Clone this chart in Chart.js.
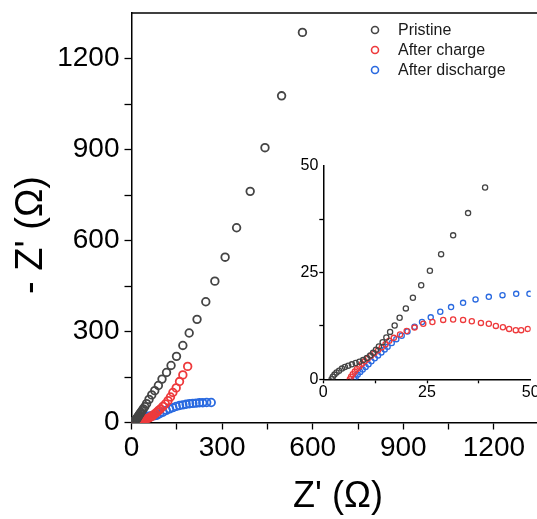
<!DOCTYPE html>
<html>
<head>
<meta charset="utf-8">
<script src="https://cdn.jsdelivr.net/npm/chart.js@4.4.1/dist/chart.umd.min.js"></script>
<style>
  html, body { margin: 0; padding: 0; background: #fff; overflow: hidden; }
  #wrap { position: relative; width: 537px; height: 519px; overflow: hidden; }
  #main { position: absolute; left: 0; top: 0; }
  #inset { position: absolute; left: 270px; top: 140px; }
</style>
</head>
<body>
<div id="wrap">
  <canvas id="main" width="545" height="519"></canvas>
  <canvas id="inset" width="290" height="280"></canvas>
</div>
<script>
// Nyquist data, Z' and -Z'' in ohm
const seriesNames = ['Pristine', 'After charge', 'After discharge'];
const seriesColors = ['#454545', '#ee3a3c', '#2a6ae0'];

const pristineRe = [2.0, 2.3, 2.7, 3.2, 3.8, 4.5, 5.2, 6.0, 6.9, 7.8, 8.7, 9.6, 10.5, 11.3, 12.0, 12.7, 13.4, 14.3, 15.2, 16.1,
  17.2, 18.4, 19.9, 21.6, 23.6, 25.7, 28.4, 31.3, 34.9, 39.0, 44, 50, 58, 67, 77, 89, 101, 116, 131, 149,
  170, 191, 217, 246, 276, 310, 348, 393, 442, 497, 566];
const pristineIm = [0, 0.6, 1.1, 1.6, 2.0, 2.5, 2.9, 3.2, 3.5, 3.8, 4.1, 4.5, 5.0, 5.6, 6.2, 6.9, 7.7, 8.7, 9.8, 11.1,
  12.6, 14.4, 16.6, 19.1, 22.0, 25.4, 29.3, 33.7, 38.9, 44.9, 52, 62, 76, 91, 105, 122, 143, 165, 188, 218,
  254, 295, 340, 398, 466, 545, 642, 762, 906, 1077, 1286];

const chargeRe = [6.4, 6.7, 7.1, 7.6, 8.1, 8.7, 9.3, 10.0, 10.7, 11.5, 12.3, 13.2, 14.1, 15.0, 15.9, 17.0, 18.5, 20.1, 22.0, 24.1,
  26.3, 28.9, 31.3, 33.7, 35.8, 38.0, 39.9, 41.6, 43.3, 44.8, 46.4, 47.7, 49.3, 52, 55, 59, 63, 68, 73, 79,
  85, 90, 96, 104, 112, 121, 129, 137, 148, 159, 170, 186];
const chargeIm = [0, 0.6, 1.2, 1.8, 2.4, 3.0, 3.6, 4.2, 4.8, 5.5, 6.1, 6.8, 7.5, 8.2, 9.0, 9.7, 10.5, 11.3, 12.1, 13.0,
  13.4, 13.9, 14.0, 13.9, 13.6, 13.2, 13.0, 12.5, 12.2, 11.8, 11.5, 11.5, 11.8, 12.5, 13.5, 15.5, 18, 21, 25, 30,
  35, 40, 45, 53, 61, 72, 84, 99, 114, 135, 157, 185];

const dischargeRe = [7.4, 7.8, 8.3, 8.9, 9.5, 10.2, 10.9, 11.6, 12.4, 13.2, 14.0, 14.8, 15.5, 16.5, 17.6, 18.9, 20.3, 22.0, 23.8, 25.9,
  28.2, 30.8, 33.7, 36.7, 39.9, 43.2, 46.5, 49.7, 54, 59, 64.5, 70.5, 77, 84, 93, 104, 115, 126, 137, 148,
  159, 170, 181, 192, 203, 214, 225, 236, 249, 264];
const dischargeIm = [0, 0.5, 1.1, 1.7, 2.3, 2.9, 3.5, 4.2, 4.9, 5.6, 6.3, 7.0, 7.6, 8.5, 9.4, 10.2, 11.2, 12.3, 13.4, 14.5,
  15.8, 16.9, 17.9, 18.7, 19.3, 19.7, 20.0, 20.0, 20.3, 20.7, 21.2, 21.8, 22.6, 23.8, 29, 34, 40, 45, 49, 53,
  56, 58, 60, 62, 63, 64, 65, 65, 66, 66];

const mainTicks = [0, 300, 600, 900, 1200];
const insetTicks = [0, 25, 50];

const FONT = "'Liberation Sans', Arial, sans-serif";

function toPoints(xs, ys) {
  return xs.map((x, i) => ({ x: x, y: ys[i] }));
}
const allSeries = [
  toPoints(pristineRe, pristineIm),
  toPoints(chargeRe, chargeIm),
  toPoints(dischargeRe, dischargeIm)
];

function makeDatasets(radius, width) {
  return allSeries.map((pts, i) => ({
    label: seriesNames[i],
    data: pts,
    showLine: false,
    pointStyle: 'circle',
    pointRadius: radius,
    pointBorderWidth: width,
    pointBackgroundColor: 'rgba(0,0,0,0)',
    pointBorderColor: seriesColors[i],
    borderColor: seriesColors[i]
  }));
}

function axis(pos, max, step, labels, size, tickLen, pad, fitSize) {
  return {
    type: 'linear',
    position: pos,
    min: 0,
    max: max,
    ticks: {
      stepSize: step,
      autoSkip: false,
      maxRotation: 0,
      padding: pad,
      color: '#000',
      font: { family: FONT, size: size },
      callback: v => labels.includes(v) ? String(v) : ''
    },
    grid: {
      drawOnChartArea: false,
      drawTicks: true,
      tickLength: tickLen,
      tickWidth: 1.3,
      tickColor: ctx => (ctx.tick && ctx.tick.value >= max) ? 'rgba(0,0,0,0)' : '#000'
    },
    border: { color: '#000', width: 1.5 },
    afterFit: s => {
      if (pos === 'bottom') s.height = fitSize; else s.width = fitSize;
      s.paddingLeft = 0; s.paddingRight = 0; s.paddingTop = 0; s.paddingBottom = 0;
    }
  };
}

// top frame line, legend and axis titles
const decor = {
  id: 'decor',
  afterDraw(chart) {
    const ctx = chart.ctx;
    const a = chart.chartArea;
    ctx.save();
    ctx.strokeStyle = '#000';
    ctx.lineWidth = 1.5;
    ctx.beginPath();
    ctx.moveTo(a.left, a.top);
    ctx.lineTo(a.right, a.top);
    ctx.stroke();

    chart.data.datasets.forEach((ds, i) => {
      const y = 30 + 20 * i;
      ctx.beginPath();
      ctx.lineWidth = 1.6;
      ctx.strokeStyle = ds.pointBorderColor;
      ctx.arc(375, y, 3.5, 0, Math.PI * 2);
      ctx.stroke();
      ctx.fillStyle = '#1a1a1a';
      ctx.font = '16px ' + FONT;
      ctx.textAlign = 'left';
      ctx.textBaseline = 'middle';
      ctx.fillText(ds.label, 398, y + 1);
    });

    ctx.fillStyle = '#000';
    ctx.textAlign = 'center';
    ctx.textBaseline = 'middle';
    ctx.font = '36px ' + FONT;
    ctx.fillText("Z' (\u03A9)", 338, 497);
    ctx.translate(32, 235);
    ctx.rotate(-Math.PI / 2);
    ctx.font = '38px ' + FONT;
    ctx.fillText("- Z' (\u03A9)", 0, 0);
    ctx.restore();
  }
};

new Chart(document.getElementById('main'), {
  type: 'scatter',
  data: { datasets: makeDatasets(3.8, 1.8) },
  options: {
    responsive: false,
    animation: false,
    layout: { padding: { top: 13, right: 4, left: 0, bottom: 0 } },
    plugins: { legend: { display: false }, tooltip: { enabled: false } },
    scales: {
      x: axis('bottom', 1350, 150, mainTicks, 28, 7, 2, 96.5),
      y: axis('left', 1350, 150, mainTicks, 28, 7, 5, 131.5)
    }
  },
  plugins: [decor]
});

new Chart(document.getElementById('inset'), {
  type: 'scatter',
  data: { datasets: makeDatasets(2.6, 1.3) },
  options: {
    responsive: false,
    animation: false,
    layout: { padding: { top: 25.7, right: 29.3, left: 0, bottom: 0 } },
    plugins: { legend: { display: false }, tooltip: { enabled: false } },
    scales: {
      x: axis('bottom', 50, 12.5, insetTicks, 16, 4, 0, 40.7),
      y: axis('left', 50, 12.5, insetTicks, 16, 4, 1, 53.3)
    }
  }
});
</script>
</body>
</html>
